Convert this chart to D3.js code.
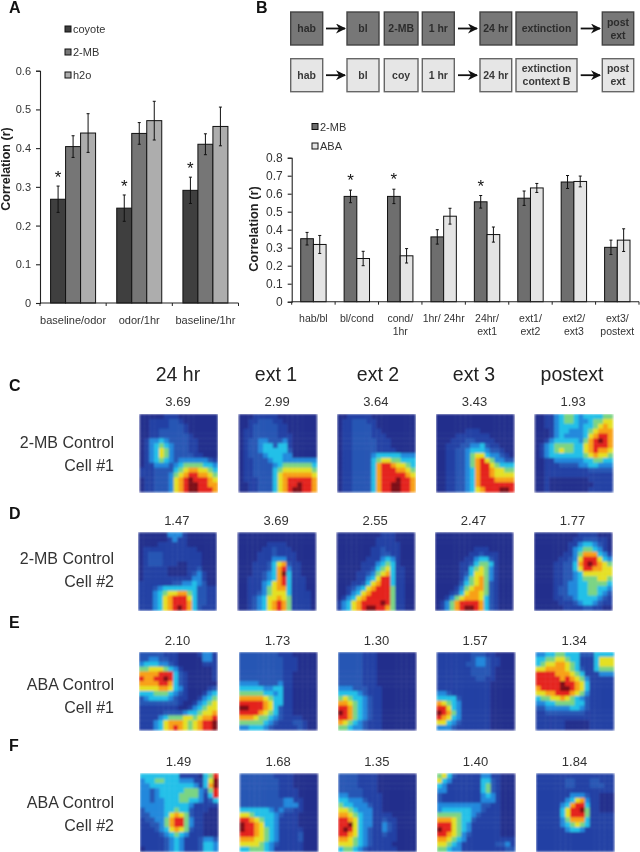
<!DOCTYPE html>
<html><head><meta charset="utf-8">
<script src="https://cdnjs.cloudflare.com/ajax/libs/d3/7.8.5/d3.min.js"></script>
<style>html,body{margin:0;padding:0;background:#fff}svg{display:block;filter:blur(0.35px)}text{font-family:"Liberation Sans",Arial,sans-serif}</style>
</head><body><svg id="c" width="640" height="852"></svg>
<script>
// Panel A data
const aCategories=["baseline/odor","odor/1hr","baseline/1hr"];
const aSeriesNames=["coyote","2-MB","h2o"];
const aCoyote=[0.268,0.245,0.291];
const a2MB=[0.404,0.438,0.41];
const aH2o=[0.439,0.471,0.456];
const aCoyoteErr=[0.034,0.034,0.034];
const a2MBErr=[0.028,0.028,0.027];
const aH2oErr=[0.05,0.05,0.05];
const aTicks=[0,0.1,0.2,0.3,0.4,0.5,0.6];
const aStars=[0,1,2];
// Panel B data
const bCategories=[["hab/bl"],["bl/cond"],["cond/","1hr"],["1hr/ 24hr"],["24hr/","ext1"],["ext1/","ext2"],["ext2/","ext3"],["ext3/","postext"]];
const bSeriesNames=["2-MB","ABA"];
const b2MB=[0.35,0.585,0.585,0.36,0.555,0.575,0.665,0.302];
const bABA=[0.318,0.24,0.255,0.475,0.373,0.632,0.668,0.342];
const b2MBErr=[0.035,0.035,0.04,0.04,0.035,0.04,0.036,0.04];
const bABAErr=[0.05,0.04,0.04,0.044,0.042,0.025,0.03,0.063];
const bTicks=[0,0.1,0.2,0.3,0.4,0.5,0.6,0.7,0.8];
const bStars=[1,2,4];
// Protocol boxes
const protoRow1=[["hab"],["bl"],["2-MB"],["1 hr"],["24 hr"],["extinction"],["post","ext"]];
const protoRow2=[["hab"],["bl"],["coy"],["1 hr"],["24 hr"],["extinction","context B"],["post","ext"]];
// Heat map labels
const columnTitles=["24 hr","ext 1","ext 2","ext 3","postext"];
const rowLetters=["C","D","E","F"];
const rowLabels=[["2-MB Control","Cell #1"],["2-MB Control","Cell #2"],["ABA Control","Cell #1"],["ABA Control","Cell #2"]];
const peakRow1=["3.69","2.99","3.64","3.43","1.93"];
const peakRow2=["1.47","3.69","2.55","2.47","1.77"];
const peakRow3=["2.10","1.73","1.30","1.57","1.34"];
const peakRow4=["1.49","1.68","1.35","1.40","1.84"];
// Rate maps, level 0-9 per cell
const mapsRow1=[
["0000011100000000","0011112210000000","0011112221000000","0011222221000000","0011222222100000","0133432222110000","0134543222110000","0134653222110000","0134653222211000","0134543233333321","0113332345555443","1112222456776654","1112223567887765","0112223678988876","0112223678998877","0112223678998887"],
["0001111100000000","0011222110000000","0012222211000000","0112222211000000","0112222211100000","0122332223100000","0122344244100000","0122344444200000","0122234443300000","0112223443333333","0112222345555554","0112222456666665","0112222467777776","0111222467888887","0011222467889887","0011222467899887"],
["0011111000000000","0112221100000000","0112222100000000","0112222110000000","0112222111000000","0112222211100000","0112222211100000","0112222211110000","0112222344444333","0112222456655444","0112222478876654","0112222478887765","0112222478888876","0112222478889887","0112222478899887","0112222478899887"],
["0000000000000000","0000000000000000","0000000000000000","0000001110000000","0000111111100000","0001112211110000","0011122334211000","0011223444322100","0011223566433210","0011223578653322","0011223578865444","0011223478876655","0011223478876666","0011223478887777","0011223478888888","0011223467888998"],
["0011345543444455","0011345543345566","0011344443445676","0001344333456777","0001343333467887","0013444443578987","0134555544678887","0134565544678776","0134444444567665","0011333333445544","0011122223344333","0011111111122222","0011111111111111","0010000000011111","0010000000001111","0010000000011111"]];
const mapsRow2=[
["0000003331000000","0000001311000000","0000111111000000","0111111111110000","0122211111111000","0122211111111000","0122211100111000","0111110000112000","0111110000123100","0111111111133100","1111111223343200","1112344444442211","1113456677542211","1113467888642211","1113467888742211","1113467898742111"],
["0000000000000000","0000000000000000","0000001111000000","0000011211100000","0000111211110000","0000111333110000","0001112467211000","0001112478311000","0001123479411000","0011123478411100","0011134678411100","0011135677411100","0011235666411110","0012346676511110","0012346787511110","0012346787511110"],
["0000000001110000","0000000011110000","0000000011111000","0000000112111000","0000000112211000","0000001113431000","0000011134541000","0000011245641100","0000112356741100","0000113468841100","0001124678841100","0012346788851100","0013467888851100","0134678888851100","1346788889851100","1346789988751100"],
["0000000000000000","0000000000000000","0000000000000000","0000000011100000","0000000112111000","0000001134421000","0000011245541000","0000011456531000","0000012466531000","0000013567531000","0000024567521000","0000135677521000","0001246776521000","0013567776421000","0135788887421000","0135789987421000"],
["0000000001111000","0000000011222110","0000000113443210","0000000134554310","0000001135777431","0000011236888643","0000112247898765","0000112246887766","0000112234666666","0000112234555665","0000112334455554","0000122334455443","0000122334455432","0000112234444321","0000011123443211","0000001111221100"]];
const mapsRow3=[
["2222211100001331","2233221100000331","3444332100000111","5566654310000001","7777888421000001","8778898421000001","7777887421000000","6666776431000012","4445554321000134","2344443211001345","2222222210013456","1111111100134566","1111122223445667","1111345556656778","1113467776567889","1113467876567889"],
["2222222211100000","2222222221110000","2222222221110000","2222222221110000","2222222221100000","2222222221100000","3333222231100000","4444433441100000","5555544341100000","7777765441100000","8888876441100000","9988876421100000","8888765421100000","7776554321111000","5555543211122100","3344432111112100"],
["2222211100000000","2222211100000000","2222211100000000","2222211100000000","2222211100000000","2222211100000000","2222211100000000","3332221110000000","4444321110000000","5654432110000000","7765432110000000","8875432110000000","9875432110000000","8875432110000000","7654321110000000","5543321110000000"],
["1111111222110000","1111111233211000","1111112233211000","1111111222210000","1111111222210000","1111111122110000","1111111111100000","1111111111100000","3321111111100000","4444211111100000","7654311111100000","8864311111100000","9875311111100000","8764311111100000","6643211111100000","3332111111100000"],
["3344554442224444","4455665441114666","4566776541114666","6677776542114555","8888777654111333","8888878765311111","8888898876411111","7888899876411111","6677888765311111","4556676543211111","3344555544211111","2233333443211111","1122222222111111","1111111111111111","1111110000011111","1111110000011111"]];
const mapsRow4=[
["4444444411110458","3445544433311469","3344444444431479","3323444445553258","3323444455553148","3323344455443124","3333344444311111","2333344544211100","2233346765211000","1223357885311000","1122357885311000","1112346765211000","1111234543111000","1111123431112332","1111123431112443","0111123431112443"],
["2222222111100000","2222222211100000","2222222211100000","2222222211110000","2222222211110000","2222222223311000","2222222223331000","4444443232211000","6654444321110000","8876544311110000","9887644311110000","9887654311111000","8887654311112000","7776654311112000","6666543211111000","4455543111111000"],
["2222111100000000","2222111100000000","2222111100000000","2222211100000000","3322211110000000","4433321110000000","5443332110000000","6654333110000000","7765433111100000","8876433112110000","8896433113210000","8986432113210000","8876432112110000","7765432111110000","6665432111100000","4554321111110000"],
["5642111113311000","6431111114421000","4311111114521000","3311111114521000","2111111113431000","2111111113331000","3333333332211000","3444444332111000","5555544321111000","7776544211111000","8886543111111000","9886543111111000","8876532111111000","7765431111111111","6654311111112231","5543311111111122"],
["1111111111111111","1111112211122111","1111112211122211","1111111111111111","1111111333211000","1111113467311000","1111134788411000","1111146889511000","1111146888511111","1111135777411111","1111134565411111","1111113443111111","1111111111111111","1111111111111111","1111111111111111","1111111111111111"]];
const jetLevels=[0,1,2,3,4,5,6,7,8,9];
const jetColors=["#202f8c","#2340a4","#2756b4","#2088dc","#20c0e8","#7ad484","#e4e024","#f8a018","#e4201c","#7c0c12"];

const svg=d3.select("#c");
const defs=svg.append("defs");
defs.append("filter").attr("id","soft").attr("x","0").attr("y","0").attr("width","1").attr("height","1")
  .append("feGaussianBlur").attr("stdDeviation",1.2).attr("edgeMode","duplicate");
const ink="#222",grey="#333";

function panelLetter(t,x,y){svg.append("text").attr("x",x).attr("y",y).attr("font-size",16).attr("font-weight","bold").attr("fill","#111").text(t);}
panelLetter("A",9,13);panelLetter("B",256,13);

function barChart(o){
  const g=svg.append("g");
  const y=d3.scaleLinear().domain(o.domain).range([o.y0,o.y1]);
  const x=d3.scaleBand().domain(d3.range(o.cats.length)).range([o.x0,o.x1]);
  const inner=d3.scaleBand().domain(d3.range(o.series.length)).range([0,o.bw*o.series.length]);
  const off=(x.bandwidth()-o.bw*o.series.length)/2;
  o.series.forEach((s,si)=>{
    const sg=g.append("g");
    sg.selectAll("rect").data(s.v).join("rect")
      .attr("x",(d,i)=>x(i)+off+inner(si)).attr("y",d=>y(d))
      .attr("width",o.bw).attr("height",d=>y(0)-y(d))
      .attr("fill",s.c).attr("stroke","#111").attr("stroke-width",1);
    sg.selectAll("path").data(s.v).join("path")
      .attr("d",(d,i)=>{const cx=x(i)+off+inner(si)+o.bw/2,a=y(d+s.e[i]),b=y(d-s.e[i]);
        return `M${cx-1.5},${a}H${cx+1.5}M${cx},${a}V${b}M${cx-1.5},${b}H${cx+1.5}`;})
      .attr("fill","none").attr("stroke","#111").attr("stroke-width",1);
  });
  // axes
  const ya=g.append("g").attr("transform",`translate(${o.x0},0)`)
    .call(d3.axisLeft(y).tickValues(o.ticks).tickFormat(d=>d===0?"0":d3.format(".1f")(d)).tickSize(4).tickPadding(o.tp));
  const xa=g.append("g").attr("transform",`translate(0,${o.y0})`)
    .call(d3.axisBottom(x).tickValues([]).tickSize(0));
  [ya,xa].forEach(a=>{a.selectAll("path,line").attr("stroke",ink).attr("stroke-width",1.1);});
  ya.selectAll("text").attr("font-size",o.tickFont).attr("fill",grey).style("font-family",'"Liberation Sans",Arial,sans-serif');
  xa.select("path").attr("d",`M${o.x0},0H${o.x1}`);
  g.append("g").selectAll("line").data(d3.range(o.cats.length+1)).join("line")
    .attr("x1",i=>o.x0+i*x.step()).attr("x2",i=>o.x0+i*x.step())
    .attr("y1",o.y0).attr("y2",o.y0+3).attr("stroke",ink).attr("stroke-width",1);
  // category labels
  const lab=g.append("g");
  o.cats.forEach((c,i)=>{
    const lines=Array.isArray(c)?c:[c];
    lines.forEach((t,j)=>lab.append("text").attr("x",x(i)+x.bandwidth()/2+(o.labDx||0)).attr("y",o.labY+j*o.labLead)
      .attr("text-anchor","middle").attr("font-size",o.labFont).attr("fill",grey).text(t));
  });
  // stars
  o.stars.forEach(i=>{
    const s=o.series[0];
    g.append("text").attr("x",x(i)+off+o.bw/2).attr("y",y(s.v[i]+s.e[i])+o.starDy)
      .attr("text-anchor","middle").attr("font-size",17).attr("fill","#111").text("*");
  });
  // y title
  g.append("text").attr("transform",`translate(${o.titleX},${o.titleY}) rotate(-90)`)
    .attr("text-anchor","middle").attr("font-size",o.titleFont).attr("font-weight","bold").attr("fill",ink).text("Correlation (r)");
  // legend
  o.series.forEach((s,i)=>{
    g.append("rect").attr("x",o.legX).attr("y",o.legY+i*o.legStep-3).attr("width",6).attr("height",6)
      .attr("fill",s.c).attr("stroke","#111").attr("stroke-width",1);
    g.append("text").attr("x",o.legX+8).attr("y",o.legY+i*o.legStep+4).attr("font-size",o.legFont).attr("fill",grey).text(s.n);
  });
}
barChart({cats:aCategories,domain:[0,0.6],ticks:aTicks,x0:40,x1:238.5,y0:303,y1:70.7,bw:15,tp:5,tickFont:11,
  series:[{n:aSeriesNames[0],v:aCoyote,e:aCoyoteErr,c:"#3f3f3f"},{n:aSeriesNames[1],v:a2MB,e:a2MBErr,c:"#767676"},{n:aSeriesNames[2],v:aH2o,e:aH2oErr,c:"#adadad"}],
  labY:324,labLead:12,labFont:11,stars:aStars,starDy:-3,titleX:10,titleY:169,titleFont:12.5,legX:65,legY:29,legStep:23,legFont:11});
barChart({cats:bCategories,domain:[0,0.8],ticks:bTicks,x0:291.7,x1:639,y0:301.7,y1:157.7,bw:12.7,tp:5,tickFont:12,
  series:[{n:bSeriesNames[0],v:b2MB,e:b2MBErr,c:"#6e6e6e"},{n:bSeriesNames[1],v:bABA,e:bABAErr,c:"#e4e4e4"}],
  labY:322,labLead:12.7,labFont:10.5,stars:bStars,starDy:-4,titleX:258,titleY:229,titleFont:12.8,legX:312,legY:126.5,legStep:19.5,legFont:11});

// protocol schematic
const boxLeft=[290.7,347,384.3,422.3,480,516,602.3];
const boxRight=[322.7,379,418,454.3,511.7,577,633.7];
const arrowFrom=[326,458,580.7];
const arrowTo=[345,477,600];
defs.append("marker").attr("id","ah").attr("viewBox","0 0 10 10").attr("refX",9).attr("refY",5).attr("markerWidth",10).attr("markerHeight",10).attr("markerUnits","userSpaceOnUse").attr("orient","auto")
  .append("path").attr("d","M0,0L10,5L0,10L3,5Z").attr("fill","#111");
function protoRow(items,top,fill,stroke){
  const g=svg.append("g");
  items.forEach((lines,i)=>{
    g.append("rect").attr("x",boxLeft[i]).attr("y",top).attr("width",boxRight[i]-boxLeft[i]).attr("height",33)
      .attr("fill",fill).attr("stroke",stroke).attr("stroke-width",1.4);
    lines.forEach((t,j)=>g.append("text").attr("x",(boxLeft[i]+boxRight[i])/2)
      .attr("y",top+16.5+3.7+(j-(lines.length-1)/2)*13).attr("text-anchor","middle")
      .attr("font-size",10.5).attr("font-weight","bold").attr("fill","#222").attr("opacity",0.88).text(t));
  });
  arrowFrom.forEach((a,i)=>g.append("line").attr("x1",a).attr("x2",arrowTo[i]).attr("y1",top+16.5).attr("y2",top+16.5)
    .attr("stroke","#111").attr("stroke-width",1.8).attr("marker-end","url(#ah)"));
}
protoRow(protoRow1,12,"#777777","#444");
protoRow(protoRow2,58.7,"#e6e6e6","#666");

// heat maps
const colourOf=d3.scaleOrdinal().domain(jetLevels).range(jetColors);
const rowsCfg=[
 {maps:mapsRow1,peaks:peakRow1,top:414,xs:[139.5,238.7,337.3,436,534.7],letterY:391,labY:448,peakY:406},
 {maps:mapsRow2,peaks:peakRow2,top:532.3,xs:[138.3,237.7,336.7,435,534],letterY:519,labY:564,peakY:525},
 {maps:mapsRow3,peaks:peakRow3,top:652,xs:[139,239,338,436.7,535.7],letterY:628,labY:690,peakY:645},
 {maps:mapsRow4,peaks:peakRow4,top:773.5,xs:[140,239.7,338.3,437,536],letterY:751,labY:808,peakY:766}];
const cellIndex=d3.range(16);
const cellScale=d3.scaleBand().domain(cellIndex).range([0,78]);
rowsCfg.forEach((r,ri)=>{
  const g=svg.append("g");
  g.append("text").attr("x",9).attr("y",r.letterY).attr("font-size",16).attr("font-weight","bold").attr("fill","#111").text(rowLetters[ri]);
  rowLabels[ri].forEach((t,j)=>g.append("text").attr("x",114).attr("y",r.labY+j*23).attr("text-anchor","end")
    .attr("font-size",16).attr("fill",grey).text(t));
  r.maps.forEach((m,mi)=>{
    const mg=g.append("g").attr("transform",`translate(${r.xs[mi]},${r.top})`);
    const inner=mg.append("g").attr("filter","url(#soft)");
    inner.selectAll("g").data(m).join("g").attr("transform",(d,y)=>`translate(0,${cellScale(y)})`)
      .selectAll("rect").data(d=>d.split("").map(Number)).join("rect")
      .attr("x",(d,x)=>cellScale(x)).attr("width",cellScale.bandwidth()+0.4).attr("height",cellScale.bandwidth()+0.4)
      .attr("fill",d=>colourOf(d));
    g.append("text").attr("x",r.xs[mi]+38.5).attr("y",r.peakY).attr("text-anchor","middle")
      .attr("font-size",13).attr("fill",grey).text(r.peaks[mi]);
  });
});
const titleX=[178,276,378,474,572];
columnTitles.forEach((t,i)=>svg.append("text").attr("x",titleX[i]).attr("y",381).attr("text-anchor","middle")
  .attr("font-size",19.5).attr("fill","#222").text(t));
</script></body></html>
